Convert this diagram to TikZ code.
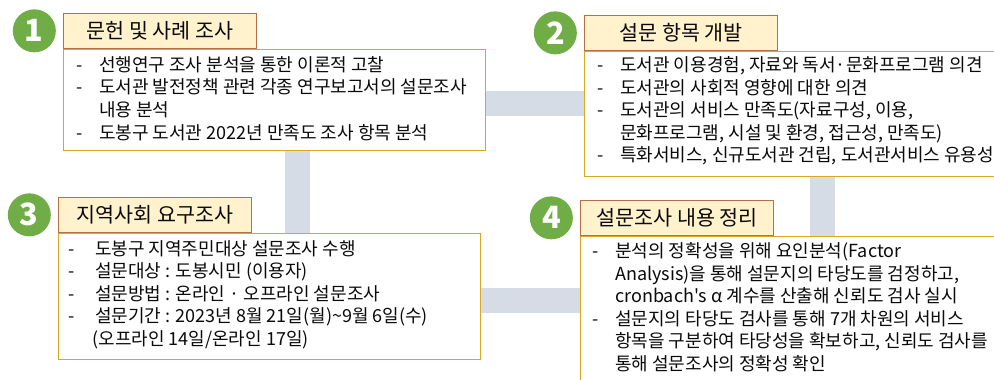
\documentclass[tikz,border=0pt]{standalone}
\usepackage{fontspec}
\newfontfamily\kofont{Noto Sans CJK KR}
\usetikzlibrary{positioning,calc,backgrounds}

\definecolor{stepgreen}{RGB}{112,173,71}
\definecolor{titlefill}{RGB}{255,242,204}
\definecolor{titleborder}{RGB}{184,112,64}
\definecolor{infoborder}{RGB}{218,165,32}
\definecolor{barcolor}{RGB}{214,220,229}
\definecolor{inktext}{RGB}{10,10,10}

\newcommand{\dashitem}[1][17pt]{\makebox[#1][l]{-}}

\tikzset{every picture/.style={line width=0.75pt}}

\begin{document}
\begin{tikzpicture}[x=0.75pt,y=0.75pt,yscale=-1,xscale=1,
	numcircle/.style={circle,fill=stepgreen,text=white,minimum size=32.25pt,inner sep=0pt,font=\kofont\bfseries\fontsize{23pt}{23pt}\selectfont},
	titlebox/.style={draw=titleborder,fill=titlefill,line width=1pt,minimum width=144.75pt,minimum height=26.25pt,inner sep=0pt,text=inktext,font=\kofont\fontsize{15.5pt}{17pt}\selectfont},
	infobox/.style={draw=infoborder,fill=white,line width=1pt,inner sep=0pt,anchor=north west},
	infotext/.style={anchor=north west,inner sep=0pt,align=left,text=inktext,font=\kofont\fontsize{13.5pt}{16.9pt}\selectfont},
	bar/.style={draw=barcolor,line width=18.75pt}]
		\useasboundingbox (0,0) rectangle (994,379);
		\clip (0,0) rectangle (994,379);

		% Step 1
		\node[infobox,minimum width=316.5pt,minimum height=75.75pt] (c1) at (63,49) {};
		\node[titlebox,anchor=south west] (t1) at (c1.north west) {문헌 및 사례 조사};
		\node[numcircle,left=5pt of t1] (n1) {1};
		\node[infotext] (l1) at ($(c1.north west)+(13,7)$) {\dashitem 선행연구 조사 분석을 통한 이론적 고찰\\
			\dashitem 도서관 발전정책 관련 각종 연구보고서의 설문조사\\
			\hspace*{17pt}내용 분석\\
			\dashitem 도봉구 도서관 2022년 만족도 조사 항목 분석};

		% Step 2
		\node[infobox,minimum width=322.5pt,minimum height=93.75pt] (c2) at (584,51) {};
		\node[titlebox,anchor=south west] (t2) at (c2.north west) {설문 항목 개발};
		\node[numcircle,left=5pt of t2] (n2) {2};
		\node[infotext] (l2) at ($(c2.north west)+(13,5)$) {\dashitem 도서관 이용경험, 자료와 독서·문화프로그램 의견\\
			\dashitem 도서관의 사회적 영향에 대한 의견\\
			\dashitem 도서관의 서비스 만족도(자료구성, 이용,\\
			\hspace*{17pt}문화프로그램, 시설 및 환경, 접근성, 만족도)\\
			\dashitem 특화서비스, 신규도서관 건립, 도서관서비스 유용성};

		% Step 3
		\node[infobox,minimum width=316.5pt,minimum height=94.5pt] (c3) at (58,233) {};
		\node[titlebox,anchor=south west] (t3) at (c3.north west) {지역사회 요구조사};
		\node[numcircle,left=5pt of t3] (n3) {3};
		\node[infotext] (l3) at ($(c3.north west)+(10,7)$) {\dashitem[20pt]도봉구 지역주민대상 설문조사 수행\\
			\dashitem[20pt]설문대상 : 도봉시민 (이용자)\\
			\dashitem[20pt]설문방법 : 온라인 · 오프라인 설문조사\\
			\dashitem[20pt]설문기간 : 2023년 8월 21일(월)\textasciitilde 9월 6일(수)\\
			\hspace*{18pt}(오프라인 14일/온라인 17일)};

		% Step 4
		\node[infobox,minimum width=322.5pt,minimum height=123pt] (c4) at (580,236) {};
		\node[titlebox,anchor=south west] (t4) at (c4.north west) {설문조사 내용 정리};
		\node[numcircle,left=5pt of t4] (n4) {4};
		\node[infotext] (l4) at ($(c4.north west)+(12,6)$) {\dashitem 분석의 정확성을 위해 요인분석(Factor\\
			\hspace*{17pt}Analysis)을 통해 설문지의 타당도를 검정하고,\\
			\hspace*{17pt}cronbach's α 계수를 산출해 신뢰도 검사 실시\\
			\dashitem 설문지의 타당도 검사를 통해 7개 차원의 서비스\\
			\hspace*{17pt}항목을 구분하여 타당성을 확보하고, 신뢰도 검사를\\
			\hspace*{17pt}통해 설문조사의 정확성 확인};

		% connector bars
		\begin{scope}[on background layer]
			\coordinate (b12) at ($(c1.east)+(0,3)$);
			\draw[bar] (b12) -- (b12 -| c2.west);
			\coordinate (b13) at ($(c1.south)+(23,0)$);
			\draw[bar] (b13) -- (b13 |- c3.north);
			\coordinate (b24) at ($(c2.south)+(23,0)$);
			\draw[bar] (b24) -- (b24 |- c4.north);
			\coordinate (b34) at ($(c3.east)+(0,3.5)$);
			\draw[bar] (b34) -- (b34 -| c4.west);
		\end{scope}

\end{tikzpicture}
\end{document}
